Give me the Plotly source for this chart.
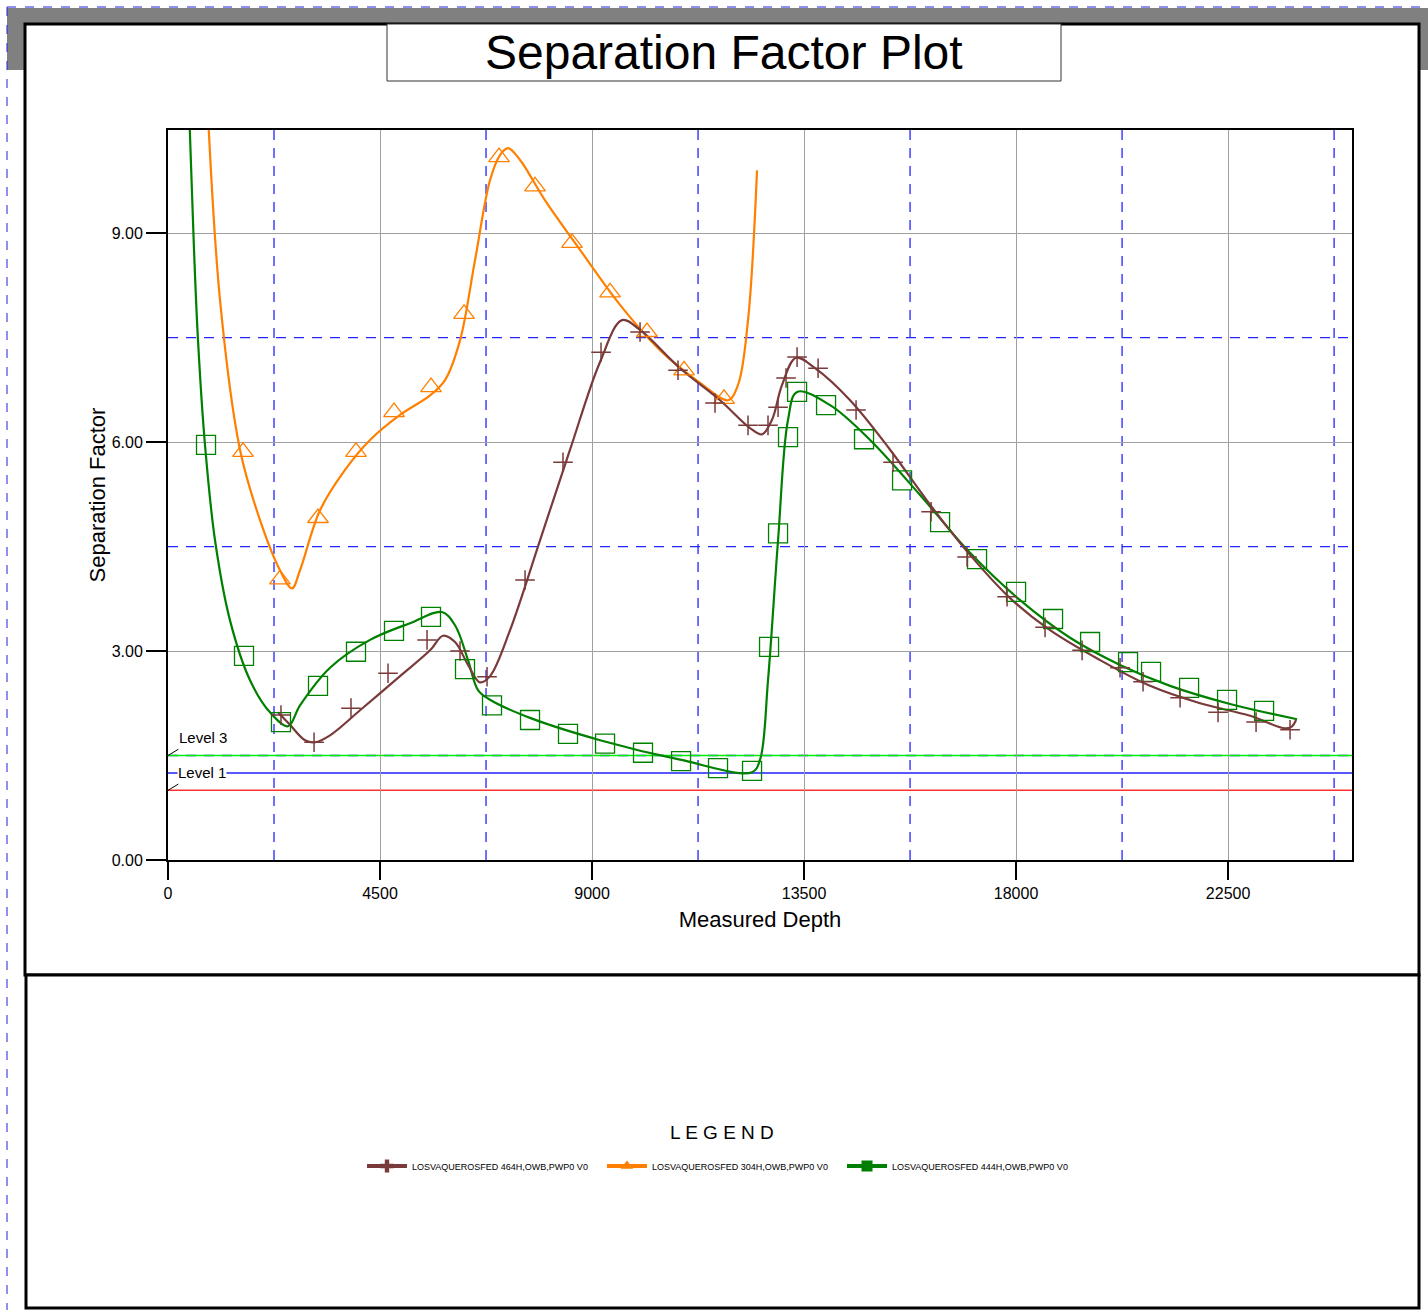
import plotly.graph_objects as go

# ---------------- data ----------------
# Marker points (Measured Depth, Separation Factor)
brown_mx = [2398, 3100, 3884, 4670, 5498, 6198, 6771, 7578, 8384, 9191, 10019, 10825, 11610, 12311,
            12735, 12948, 13118, 13352, 13798, 14604, 15389, 16196, 16960, 17809, 18615, 19401,
            20207, 20695, 21481, 22287, 23094, 23815]
brown_my = [2.08, 1.69, 2.18, 2.68, 3.16, 3.00, 2.63, 4.02, 5.71, 7.29, 7.58, 7.03, 6.56, 6.24,
            6.24, 6.50, 6.92, 7.22, 7.06, 6.46, 5.71, 5.00, 4.35, 3.78, 3.34, 3.01,
            2.76, 2.56, 2.33, 2.12, 1.98, 1.87]

orange_mx = [1592, 2377, 3184, 3990, 4797, 5582, 6283, 7026, 7790, 8575, 9382, 10167, 10953, 11802]
orange_my = [5.86, 4.03, 4.91, 5.86, 6.43, 6.79, 7.84, 10.09, 9.67, 8.86, 8.15, 7.58, 7.03, 6.62]

green_mx = [807, 1613, 2398, 3184, 3990, 4797, 5582, 6304, 6877, 7684, 8490, 9276, 10082, 10889,
            11674, 12396, 12757, 12948, 13160, 13352, 13967, 14773, 15580, 16387, 17172, 18000,
            18785, 19571, 20377, 20865, 21672, 22478, 23264]
green_my = [5.96, 2.93, 1.98, 2.50, 2.99, 3.29, 3.49, 2.74, 2.22, 2.01, 1.81, 1.67, 1.54, 1.42,
            1.32, 1.28, 3.06, 4.69, 6.07, 6.72, 6.53, 6.04, 5.45, 4.85, 4.32, 3.85,
            3.46, 3.13, 2.84, 2.70, 2.47, 2.30, 2.14]

# Curve points
brown_cx = [2335, 2590, 2908, 3121, 3439, 4076, 4925, 5562, 5837, 6092, 6368, 6623, 6835, 7260,
            7896, 8533, 9170, 9637, 10019, 10868, 11717, 12354, 12608, 12820, 13033, 13330,
            13734, 14477, 15326, 16175, 17023, 17872, 18721, 19783, 20844, 21906, 22967,
            23710, 23858, 23943]
brown_cy = [2.12, 1.94, 1.72, 1.69, 1.79, 2.15, 2.64, 3.01, 3.22, 3.13, 2.80, 2.55, 2.64, 3.30,
            4.59, 5.89, 7.15, 7.75, 7.61, 7.06, 6.60, 6.20, 6.11, 6.32, 6.82, 7.21,
            7.06, 6.60, 5.89, 5.10, 4.38, 3.76, 3.30, 2.87, 2.50, 2.25, 2.07,
            1.89, 1.92, 2.01]

orange_cx = [806, 1104, 1528, 1953, 2377, 2632, 2802, 3226, 3757, 4288, 4925, 5562, 5880, 6198,
             6516, 6835, 7047, 7217, 7472, 8003, 8745, 9594, 10443, 11292, 11886, 12099, 12311, 12502]
orange_cy = [11.30, 8.04, 5.89, 4.88, 4.16, 3.90, 4.16, 5.02, 5.60, 6.03, 6.39, 6.67, 6.89, 7.46,
             8.61, 9.76, 10.12, 10.22, 10.05, 9.47, 8.76, 7.97, 7.32, 6.85, 6.60, 6.82, 7.75, 9.90]

green_cx = [420, 552, 637, 785, 998, 1316, 1741, 2165, 2547, 2802, 3439, 4288, 5137, 5816, 6092,
            6368, 6580, 6835, 7684, 9170, 10868, 12396, 12566, 12735, 12948, 13160, 13352, 14053,
            14901, 15962, 17023, 18085, 19146, 20207, 21269, 22542, 23964]
green_cy = [11.30, 8.76, 7.46, 5.96, 4.59, 3.44, 2.58, 2.12, 1.92, 2.22, 2.76, 3.16, 3.40, 3.56, 3.37,
            2.87, 2.44, 2.30, 2.04, 1.72, 1.44, 1.26, 1.44, 2.58, 4.59, 6.32, 6.72, 6.53,
            6.03, 5.24, 4.41, 3.73, 3.19, 2.80, 2.50, 2.24, 2.02]

series_names = ["LOSVAQUEROSFED 464H,OWB,PWP0 V0",
                "LOSVAQUEROSFED 304H,OWB,PWP0 V0",
                "LOSVAQUEROSFED 444H,OWB,PWP0 V0"]

level_values = [1.5, 1.25, 1.0]

x_ticks = [0, 4500, 9000, 13500, 18000, 22500]
y_ticks = [0, 3, 6, 9]
y_tick_labels = ["0.00", "3.00", "6.00", "9.00"]
x_dashed_grid = [2250, 6750, 11250, 15750, 20250, 24750]
y_dashed_grid = [1.5, 4.5, 7.5]

X_MAX = 25130
Y_MAX = 10.48

# ---------------- styling ----------------
BROWN = "#7A3A3A"
ORANGE = "#FF8000"
GREEN = "#008000"
DASHBLUE = "#2424FF"
FONT = "Liberation Sans, Arial, sans-serif"

W, H = 1428, 1310
L, R, T, B = 168, 1352, 130, 860


def pxx(x):
    return (x - L) / (R - L)


def pxy(y):
    return (B - y) / (B - T)


fig = go.Figure()

# curves
for cx, cy, col in [(green_cx, green_cy, GREEN), (orange_cx, orange_cy, ORANGE), (brown_cx, brown_cy, BROWN)]:
    fig.add_trace(go.Scatter(x=cx, y=cy, mode="lines", line=dict(color=col, width=2.2, shape="spline", smoothing=1.0),
                             showlegend=False, hoverinfo="skip"))

# markers
fig.add_trace(go.Scatter(x=green_mx, y=green_my, mode="markers",
                         marker=dict(symbol="square-open", size=19, color=GREEN, line=dict(width=1.3, color=GREEN)),
                         showlegend=False))
fig.add_trace(go.Scatter(x=orange_mx, y=orange_my, mode="markers",
                         marker=dict(symbol="triangle-up-open", size=18, color=ORANGE, line=dict(width=1.3, color=ORANGE)),
                         showlegend=False))
fig.add_trace(go.Scatter(x=brown_mx, y=brown_my, mode="markers",
                         marker=dict(symbol="cross-thin-open", size=14, color=BROWN, line=dict(width=1.5, color=BROWN)),
                         showlegend=False))

# legend entries
for name, col, sym in [(series_names[0], BROWN, "cross"), (series_names[1], ORANGE, "triangle-up"),
                       (series_names[2], GREEN, "square")]:
    fig.add_trace(go.Scatter(x=[None], y=[None], mode="lines+markers", name=name,
                             line=dict(color=col, width=4), marker=dict(symbol=sym, size=11, color=col)))

shapes = []
# outer gray band and blue dashed border
shapes.append(dict(type="rect", xref="paper", yref="paper", x0=pxx(7), x1=pxx(1430), y0=pxy(8), y1=pxy(70),
                   fillcolor="#808080", line=dict(width=0), layer="below"))
shapes.append(dict(type="line", xref="paper", yref="paper", x0=pxx(7), x1=pxx(1428), y0=pxy(7), y1=pxy(7),
                   line=dict(color="#2020E0", width=1, dash="dash"), layer="below"))
shapes.append(dict(type="line", xref="paper", yref="paper", x0=pxx(7), x1=pxx(7), y0=pxy(7), y1=pxy(1310),
                   line=dict(color="#2020E0", width=1, dash="dash"), layer="below"))
# white panels
shapes.append(dict(type="rect", xref="paper", yref="paper", x0=pxx(25), x1=pxx(1419), y0=pxy(24), y1=pxy(975),
                   fillcolor="white", line=dict(color="black", width=3), layer="below"))
shapes.append(dict(type="rect", xref="paper", yref="paper", x0=pxx(26), x1=pxx(1419), y0=pxy(975), y1=pxy(1308),
                   fillcolor="white", line=dict(color="black", width=3), layer="below"))
# title box
shapes.append(dict(type="rect", xref="paper", yref="paper", x0=pxx(387), x1=pxx(1061), y0=pxy(24), y1=pxy(81),
                   fillcolor="white", line=dict(color="#333333", width=1), layer="below"))
# blue dashed grid lines
for gx in x_dashed_grid:
    shapes.append(dict(type="line", xref="x", yref="y", x0=gx, x1=gx, y0=0, y1=Y_MAX,
                       line=dict(color=DASHBLUE, width=1.3, dash="10px,8px"), layer="below"))
for gy in y_dashed_grid:
    shapes.append(dict(type="line", xref="x", yref="y", x0=0, x1=X_MAX, y0=gy, y1=gy,
                       line=dict(color=DASHBLUE, width=1.3, dash="10px,8px"), layer="below"))
# level lines
level_colors = ["#00EE00", "#2020FF", "#FF3030"]
for v, c in zip(level_values, level_colors):
    shapes.append(dict(type="line", xref="x", yref="y", x0=0, x1=X_MAX, y0=v, y1=v,
                       line=dict(color=c, width=1.5), layer="below"))
# small slanted marks at the axis
for v in [level_values[0], level_values[2]]:
    shapes.append(dict(type="line", xref="x", yref="y", x0=0, x1=220, y0=v, y1=v + 0.09,
                       line=dict(color="black", width=1), layer="above"))

annotations = [
    dict(text="Separation Factor Plot", xref="paper", yref="paper", x=pxx(724), y=pxy(52),
         showarrow=False, font=dict(size=48, color="black", family=FONT), xanchor="center", yanchor="middle"),
    dict(text="Level 3", xref="x", yref="y", x=200, y=level_values[0] + 0.26, showarrow=False,
         xanchor="left", yanchor="middle", font=dict(size=15, color="black", family=FONT)),
    dict(text="Level 1", xref="x", yref="y", x=200, y=level_values[1], showarrow=False,
         xanchor="left", yanchor="middle", font=dict(size=15, color="black", family=FONT), bgcolor="white",
         borderpad=0),
    dict(text="L E G E N D", xref="paper", yref="paper", x=pxx(722), y=pxy(1132), showarrow=False,
         xanchor="center", yanchor="middle", font=dict(size=19, color="black", family=FONT)),
]

fig.update_layout(
    width=W, height=H,
    margin=dict(l=L, r=W - R, t=T, b=H - B, pad=0),
    paper_bgcolor="white", plot_bgcolor="white",
    font=dict(family=FONT, color="black"),
    shapes=shapes, annotations=annotations,
    legend=dict(orientation="h", x=pxx(722), xanchor="center", y=pxy(1166), yanchor="middle",
                font=dict(size=9, family=FONT, color="black"), entrywidth=185, itemwidth=40,
                bgcolor="rgba(0,0,0,0)"),
    xaxis=dict(range=[0, X_MAX], tickmode="array", tickvals=x_ticks, ticktext=[str(t) for t in x_ticks],
               showline=True, linecolor="black", linewidth=2, mirror=True,
               ticks="outside", ticklen=18, tickwidth=2, tickcolor="black",
               tickfont=dict(size=16, family=FONT, color="black"),
               showgrid=True, gridcolor="#A0A0A0", gridwidth=1, zeroline=False,
               title=dict(text="Measured Depth", font=dict(size=22, family=FONT, color="black"), standoff=10)),
    yaxis=dict(range=[0, Y_MAX], tickmode="array", tickvals=y_ticks, ticktext=y_tick_labels,
               showline=True, linecolor="black", linewidth=2, mirror=True,
               ticks="outside", ticklen=20, tickwidth=2, tickcolor="black",
               tickfont=dict(size=16, family=FONT, color="black"),
               showgrid=True, gridcolor="#A0A0A0", gridwidth=1, zeroline=False,
               title=dict(text="Separation Factor", font=dict(size=22, family=FONT, color="black"), standoff=0)),
)

fig.write_html("out.html", config={"displayModeBar": False},
               post_script="document.body.style.margin='0px';")
